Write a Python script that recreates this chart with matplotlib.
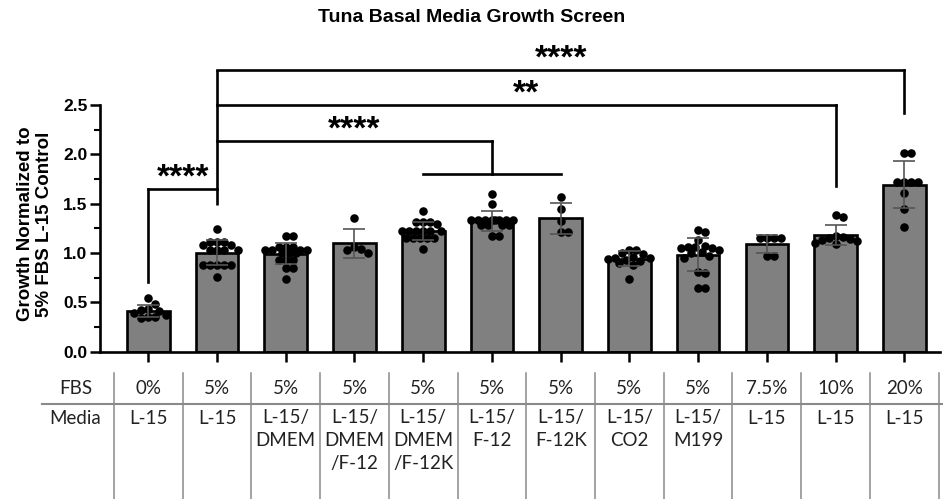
import numpy as np
import matplotlib.pyplot as plt
from matplotlib.transforms import blended_transform_factory

# table rows under the bars
fbs = ['0%', '5%', '5%', '5%', '5%', '5%', '5%', '5%', '5%', '7.5%', '10%', '20%']
media = ['L-15', 'L-15', 'L-15/\nDMEM', 'L-15/\nDMEM\n/F-12', 'L-15/\nDMEM\n/F-12K',
         'L-15/\nF-12', 'L-15/\nF-12K', 'L-15/\nCO2', 'L-15/\nM199', 'L-15', 'L-15', 'L-15']

# individual replicates
fbs0_l15 = [0.54, 0.48, 0.43, 0.42, 0.415, 0.39, 0.37, 0.35, 0.35, 0.34]
fbs5_l15 = [1.24, 1.11, 1.11, 1.11, 1.08, 1.08, 1.03, 1.03, 1.03, 1.03,
            0.88, 0.88, 0.88, 0.88, 0.88, 0.76]
fbs5_dmem = [1.17, 1.17, 1.06, 1.06, 1.06, 1.03, 1.03, 1.03, 1.03,
             1.0, 1.0, 1.0, 0.93, 0.93, 0.93, 0.85, 0.85, 0.735]
fbs5_dmem_f12 = [1.35, 1.06, 1.04, 1.03, 1.0]
fbs5_dmem_f12k = [1.42, 1.31, 1.31, 1.31, 1.29, 1.22, 1.22, 1.22, 1.22, 1.22, 1.22,
                  1.15, 1.15, 1.15, 1.15, 1.15, 1.04]
fbs5_f12 = [1.60, 1.50, 1.33, 1.33, 1.33, 1.33, 1.33, 1.33, 1.33, 1.33,
            1.28, 1.28, 1.28, 1.28, 1.17, 1.17]
fbs5_f12k = [1.57, 1.45, 1.32, 1.21, 1.21]
fbs5_co2 = [1.03, 1.03, 1.0, 0.99, 0.96, 0.95, 0.95, 0.94, 0.93, 0.92, 0.90, 0.88, 0.74]
fbs5_m199 = [1.23, 1.21, 1.13, 1.07, 1.06, 1.06, 1.05, 1.05, 1.03, 1.01, 1.0,
             0.97, 0.95, 0.81, 0.80, 0.64, 0.64]
fbs75_l15 = [1.15, 1.15, 1.15, 1.15, 0.97, 0.97]
fbs10_l15 = [1.38, 1.36, 1.17, 1.16, 1.15, 1.14, 1.13, 1.12, 1.10, 1.09]
fbs20_l15 = [2.01, 2.01, 1.72, 1.72, 1.72, 1.72, 1.61, 1.45, 1.26]

groups = [fbs0_l15, fbs5_l15, fbs5_dmem, fbs5_dmem_f12, fbs5_dmem_f12k, fbs5_f12,
          fbs5_f12k, fbs5_co2, fbs5_m199, fbs75_l15, fbs10_l15, fbs20_l15]

# comparisons against the 5% L-15 control: (start, end, level, label, leg bottom)
comparisons = [(0, 1, 1.648, '****', 0.705),
               (1, 5, 2.135, '****', 1.805),
               (1, 10, 2.50, '**', 1.68),
               (1, 11, 2.855, '****', 2.42)]

W, H = 943, 499
fig = plt.figure(figsize=(W / 100, H / 100), dpi=100)
ax = fig.add_axes([100 / W, 1 - 351.5 / H, 840 / W, 351.5 / H])
ax.set_xlim(-0.703, 11.52)
ax.set_ylim(0, 3.565)

x = np.arange(len(groups))
means = [np.mean(g) for g in groups]
sds = [np.std(g, ddof=1) for g in groups]

ax.bar(x, means, width=0.62, color='#808080', edgecolor='black', linewidth=1.9, zorder=1)


def swarm(vals, xc, sep=7.0, maxoff=22):
    # beeswarm in pixel space, kept within roughly the bar width
    vals = np.asarray(vals, dtype=float)
    px = ax.transData.transform(np.column_stack([np.full(len(vals), xc), vals]))
    placed = []
    xs = np.empty(len(vals))
    step = sep / 2
    offs = [0]
    k = 1
    while k * step <= maxoff:
        offs += [k * step, -k * step]
        k += 1
    for i in np.argsort(vals)[::-1]:
        cx, cy = px[i]
        best, best_d = cx, -1
        for o in offs:
            c = cx + o
            d = min([np.hypot(c - qx, cy - qy) for qx, qy in placed] or [99])
            if d >= sep:
                best = c
                break
            if d > best_d:
                best, best_d = c, d
        placed.append((best, cy))
        xs[i] = best
    return ax.transData.inverted().transform(np.column_stack([xs, px[:, 1]]))[:, 0]


for i, g in enumerate(groups):
    ax.scatter(swarm(g, i), g, s=38, color='black', zorder=3, clip_on=False, linewidths=0)

ax.errorbar(x, means, yerr=sds, fmt='none', ecolor='#555555', elinewidth=1.2,
            capsize=8, capthick=1.2, zorder=4)

# axes styling
for side in ['top', 'right']:
    ax.spines[side].set_visible(False)
ax.spines['left'].set_bounds(0, 2.5)
ax.spines['left'].set_linewidth(1.9)
ax.spines['bottom'].set_linewidth(1.9)
ax.set_yticks(np.arange(0, 2.51, 0.5))
ax.set_yticks(np.arange(0.25, 2.5, 0.5), minor=True)
ax.set_yticklabels([f'{v:.1f}' for v in np.arange(0, 2.51, 0.5)],
                   fontsize=12.5, fontweight='bold', family='Liberation Sans')
ax.set_xticks(x)
ax.set_xticklabels([])
ax.tick_params(which='major', length=7, width=1.8, pad=2)
ax.tick_params(which='minor', length=4, width=1.5)

# significance brackets
lw = 1.9
top_level = max(c[2] for c in comparisons)
ax.plot([1, 1], [1.486, top_level], color='black', lw=lw, clip_on=False, solid_capstyle='butt')
for a, b, level, stars, leg in comparisons:
    ax.plot([a, b], [level, level], color='black', lw=lw, clip_on=False, solid_capstyle='projecting')
    if a == 0:
        ax.plot([a, a], [leg, level], color='black', lw=lw, clip_on=False)
    else:
        ax.plot([b, b], [leg, level], color='black', lw=lw, clip_on=False)
    if b == 5:
        ax.plot([4, 6], [leg, leg], color='black', lw=lw, clip_on=False)
    ax.text((a + b) / 2, level + 0.02, stars, ha='center', va='baseline', fontsize=24,
            fontweight='bold', family='Liberation Sans')

fig.text(0.5, 1 - 17 / H, 'Tuna Basal Media Growth Screen', ha='center', va='center',
         fontsize=14, fontweight='bold', family='Liberation Sans')
fig.text(35 / W, 1 - 224 / H, 'Growth Normalized to\n5% FBS L-15 Control', rotation=90,
         ha='center', va='center', multialignment='center', fontsize=13.5,
         fontweight='bold', family='Liberation Sans', linespacing=1.1)

# table under the chart
trans = blended_transform_factory(ax.transData, fig.transFigure)


def fy(ypx):
    return 1 - ypx / H


tcol = '#222222'
gcol = '#8a8a8a'
tfs = 13.5
ax.text(-1.06, fy(388), 'FBS', transform=trans, ha='center', va='center',
        fontsize=tfs, family='Lato', color=tcol)
ax.text(-1.06, fy(418), 'Media', transform=trans, ha='center', va='center',
        fontsize=tfs, family='Lato', color=tcol)
for i, (f, m) in enumerate(zip(fbs, media)):
    ax.text(i, fy(388), f, transform=trans, ha='center', va='center',
            fontsize=tfs, family='Lato', color=tcol)
    for j, line in enumerate(m.split('\n')):
        ax.text(i, fy(418 + 22.5 * j), line, transform=trans, ha='center', va='center',
                fontsize=tfs, family='Lato', color=tcol)
for b in np.arange(-0.5, len(groups), 1):
    ax.plot([b, b], [fy(373), fy(499)], transform=trans, color=gcol, lw=1.1, clip_on=False)
ax.plot([-1.55, 11.6], [fy(404), fy(404)], transform=trans, color=gcol, lw=1.5, clip_on=False)

fig.savefig('out.png', dpi=100)
